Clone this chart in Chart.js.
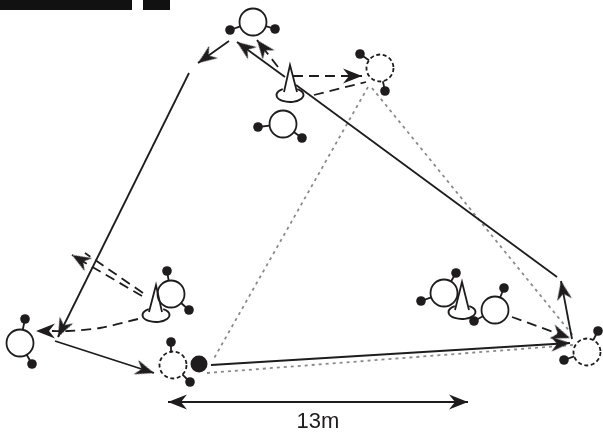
<!DOCTYPE html>
<html>
<head>
<meta charset="utf-8">
<script src="https://cdn.jsdelivr.net/npm/chart.js@4"></script>
<style>
  html, body { margin: 0; padding: 0; background: #fff; }
  canvas { display: block; }
</style>
</head>
<body>
<canvas id="myChart" width="603" height="432"></canvas>
<script>
// all values, in picture coordinates

// players: centre x, centre y, then the two hands
var solidPlayers = [
  [253, 22, 230, 30, 275, 29],
  [283, 124, 258, 127, 302, 138],
  [171, 294, 167, 271, 189, 310],
  [20, 343, 25, 319, 32, 364],
  [444, 293, 456, 273, 421, 301],
  [495, 310, 504, 288, 474, 321]
];
var dashedPlayers = [
  [380, 68, 360, 54, 385, 91],
  [173, 365, 171, 342, 190, 382],
  [587, 352, 598, 331, 564, 360]
];
var ball = [[199, 364]];

// cones: apex x, apex y, left foot x, right foot x, feet y, base y
var cones = [
  [290, 65, 284, 297, 92, 95],
  [156, 285, 149, 162, 312, 315],
  [462, 282, 455, 469, 310, 312]
];

// runs with a head at the last point
var solidArrows = [
  [[229, 41], [198, 63]],
  [[285, 77], [237, 42]],
  [[189, 73], [58, 337]],
  [[55, 341], [154, 373]],
  [[211, 365], [570, 343]],
  [[572, 339], [561, 281]],
  [[200, 402], [168, 402]],
  [[440, 402], [468, 402]]
];
var solidLines = [
  [[557, 277], [296, 85]],
  [[168, 402], [468, 402]]
];
var dashedArrows = [
  [[293, 76], [362, 76]],
  [[278, 67], [257, 40]],
  [[142, 296], [72, 255]],
  [[512, 317], [570, 338]]
];
var dashedLines = [
  [[314, 95], [366, 82]],
  [[143, 293], [85, 253]]
];
var curvedArrows = [
  [[138, 319], [100, 328], [68, 331], [36, 331]]
];
var dottedLines = [
  [[368, 87], [213, 360]],
  [[372, 88], [575, 338]],
  [[207, 373], [573, 345]]
];
var topBars = [
  [[0, 5], [132, 5]],
  [[143, 5], [170, 5]]
];
var scaleLabel = '13m';
var scaleLabelPos = [318, 428];

var ink = '#1e1c1c';
var stroke = 1.8;

function sprite(size, draw) {
  var c = document.createElement('canvas');
  c.width = c.height = size;
  draw(c.getContext('2d'), size / 2);
  return c;
}

// notched head, tip in the middle of the sprite so it lands on the data point
var arrowHead = sprite(48, function (g, m) {
  g.fillStyle = ink;
  g.beginPath();
  g.moveTo(m, m);
  g.lineTo(m - 19, m - 7.5);
  g.lineTo(m - 13, m);
  g.lineTo(m - 19, m + 7.5);
  g.closePath();
  g.fill();
});
var dashedRing = sprite(34, function (g, m) {
  g.strokeStyle = ink;
  g.lineWidth = stroke;
  g.setLineDash([4, 2.6]);
  g.beginPath();
  g.arc(m, m, 13.5, 0, Math.PI * 2);
  g.stroke();
});
// base of a cone, the top of it stays open behind the cone
var coneBase = sprite(34, function (g, m) {
  g.strokeStyle = ink;
  g.lineWidth = stroke;
  g.beginPath();
  g.ellipse(m, m, 13.5, 7, 0, -Math.PI * 0.32, -Math.PI * 0.68);
  g.stroke();
});

function pts(list) {
  return list.map(function (p) { return { x: p[0], y: p[1] }; });
}

var datasets = [];

function addLine(path, width, color, dash, tension) {
  datasets.push({
    data: pts(path), showLine: true, pointRadius: 0, borderColor: color,
    borderWidth: width, borderDash: dash || [], tension: tension || 0,
    borderCapStyle: 'butt'
  });
}

function addHead(path) {
  var a = path[path.length - 2], b = path[path.length - 1];
  datasets.push({
    data: pts([b]), pointStyle: arrowHead, pointRadius: 5,
    pointRotation: Math.atan2(b[1] - a[1], b[0] - a[0]) * 180 / Math.PI
  });
}

topBars.forEach(function (p) { addLine(p, 10, '#111'); });
dottedLines.forEach(function (p) { addLine(p, 1.8, '#8a8a8a', [3, 4]); });
solidLines.forEach(function (p) { addLine(p, stroke, ink); });
dashedLines.forEach(function (p) { addLine(p, stroke, ink, [10, 6]); });
solidArrows.forEach(function (p) { addLine(p, stroke, ink); addHead(p); });
dashedArrows.forEach(function (p) { addLine(p, stroke, ink, [10, 6]); addHead(p); });
curvedArrows.forEach(function (p) {
  addLine(p.slice(0, 3).concat([[52, 331]]), stroke, ink, [10, 6], 0.3);
  addHead(p);
});

cones.forEach(function (c) {
  datasets.push({
    data: pts([[c[0], c[5]]]), pointStyle: coneBase, pointRadius: 5
  });
  addLine([[c[2], c[4]], [c[0], c[1]], [c[3], c[4]]], stroke, ink);
});

// arm from the edge of the body out to the hand
function addArms(p) {
  [[p[2], p[3]], [p[4], p[5]]].forEach(function (h) {
    var dx = h[0] - p[0], dy = h[1] - p[1], d = Math.sqrt(dx * dx + dy * dy);
    addLine([[p[0] + dx / d * 13.5, p[1] + dy / d * 13.5], h], stroke, ink);
  });
}
function hands(list) {
  var out = [];
  list.forEach(function (p) { out.push([p[2], p[3]], [p[4], p[5]]); });
  return out;
}
solidPlayers.concat(dashedPlayers).forEach(addArms);

datasets.push({
  data: pts(solidPlayers), pointStyle: 'circle', pointRadius: 13.5,
  pointBackgroundColor: 'transparent', pointBorderColor: ink, pointBorderWidth: stroke
});
datasets.push({
  data: pts(dashedPlayers), pointStyle: dashedRing, pointRadius: 13.5
});
datasets.push({
  data: pts(hands(solidPlayers.concat(dashedPlayers))), pointStyle: 'circle', pointRadius: 4.8,
  pointBackgroundColor: ink, pointBorderColor: ink, pointBorderWidth: 0
});
datasets.push({
  data: pts(ball), pointStyle: 'circle', pointRadius: 8.5,
  pointBackgroundColor: ink, pointBorderColor: ink, pointBorderWidth: 0
});

// chart.js paints the first dataset last
datasets.reverse();

var labelPlugin = {
  id: 'scaleLabel',
  afterDatasetsDraw: function (chart) {
    var g = chart.ctx;
    g.save();
    g.fillStyle = ink;
    g.font = '22px "Liberation Sans", sans-serif';
    g.textAlign = 'center';
    g.fillText(scaleLabel, chart.scales.x.getPixelForValue(scaleLabelPos[0]),
      chart.scales.y.getPixelForValue(scaleLabelPos[1]));
    g.restore();
  }
};

var myChart = new Chart(document.getElementById('myChart').getContext('2d'), {
  type: 'scatter',
  data: { datasets: datasets },
  plugins: [labelPlugin],
  options: {
    responsive: false,
    animation: false,
    devicePixelRatio: 1,
    layout: { padding: 0, autoPadding: false },
    plugins: { legend: { display: false }, tooltip: { enabled: false } },
    scales: {
      x: { type: 'linear', display: false, min: 0, max: 603 },
      y: { type: 'linear', display: false, min: 0, max: 432, reverse: true }
    }
  }
});
</script>
</body>
</html>
